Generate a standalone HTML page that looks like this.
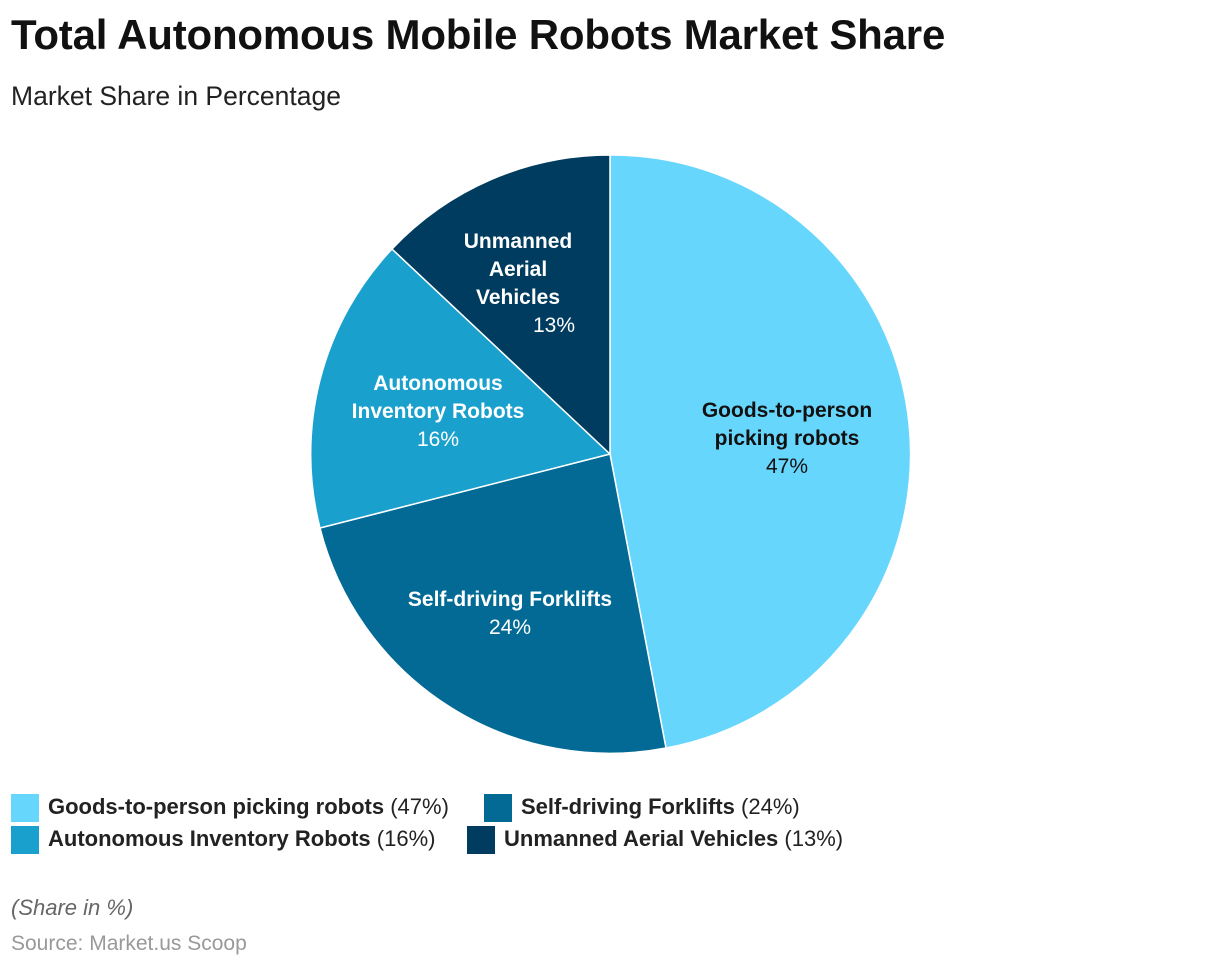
<!DOCTYPE html>
<html><head><meta charset="utf-8"><style>
body{margin:0;width:1220px;height:968px;background:#fff;font-family:"Liberation Sans",Arial,sans-serif;position:relative;overflow:hidden}
.t{position:absolute;left:11px;top:11px;font-size:42px;font-weight:bold;color:#111;letter-spacing:-0.2px}
.s{position:absolute;left:11px;top:81px;font-size:26.5px;color:#222}
.lg{position:absolute;font-size:22px;color:#222;white-space:nowrap}
.lg b{font-weight:bold}
.sw{position:absolute;width:28px;height:28px}
.n{position:absolute;left:11px;top:895px;font-size:22px;font-style:italic;color:#666}
.src{position:absolute;left:11px;top:932px;font-size:21px;color:#999}
</style></head><body>
<div class="t">Total Autonomous Mobile Robots Market Share</div>
<div class="s">Market Share in Percentage</div>
<svg width="1220" height="968" style="position:absolute;left:0;top:0" font-family="Liberation Sans, Arial, sans-serif" font-size="21" text-anchor="middle">
<g stroke="#fff" stroke-width="1.5">
<path d="M610,454 L610,155 A299,299 0 0 1 666,748 Z" fill="#67d6fc"/>
<path d="M610,454 L666,748 A299,299 0 0 1 320,528 Z" fill="#026a94"/>
<path d="M610,454 L320,528 A299,299 0 0 1 392,249 Z" fill="#1aa0cc"/>
<path d="M610,454 L392,249 A299,299 0 0 1 610,155 Z" fill="#003c5f"/>
</g>
<g fill="#111"><text x="787" y="417" font-weight="bold">Goods-to-person</text><text x="787" y="445" font-weight="bold">picking robots</text><text x="787" y="473">47%</text></g>
<g fill="#fff"><text x="510" y="606" font-weight="bold">Self-driving Forklifts</text><text x="510" y="634">24%</text>
<text x="438" y="390" font-weight="bold">Autonomous</text><text x="438" y="418" font-weight="bold">Inventory Robots</text><text x="438" y="446">16%</text>
<text x="518" y="248" font-weight="bold">Unmanned</text><text x="518" y="276" font-weight="bold">Aerial</text><text x="518" y="304" font-weight="bold">Vehicles</text><text x="554" y="332">13%</text></g>
</svg>
<div class="sw" style="left:11px;top:794px;background:#67d6fc"></div>
<div class="lg" style="left:48px;top:794px"><b>Goods-to-person picking robots</b> (47%)</div>
<div class="sw" style="left:484px;top:794px;background:#026a94"></div>
<div class="lg" style="left:521px;top:794px"><b>Self-driving Forklifts</b> (24%)</div>
<div class="sw" style="left:11px;top:826px;background:#1aa0cc"></div>
<div class="lg" style="left:48px;top:826px"><b>Autonomous Inventory Robots</b> (16%)</div>
<div class="sw" style="left:467px;top:826px;background:#003c5f"></div>
<div class="lg" style="left:504px;top:826px"><b>Unmanned Aerial Vehicles</b> (13%)</div>
<div class="n">(Share in %)</div>
<div class="src">Source: Market.us Scoop</div>
</body></html>
